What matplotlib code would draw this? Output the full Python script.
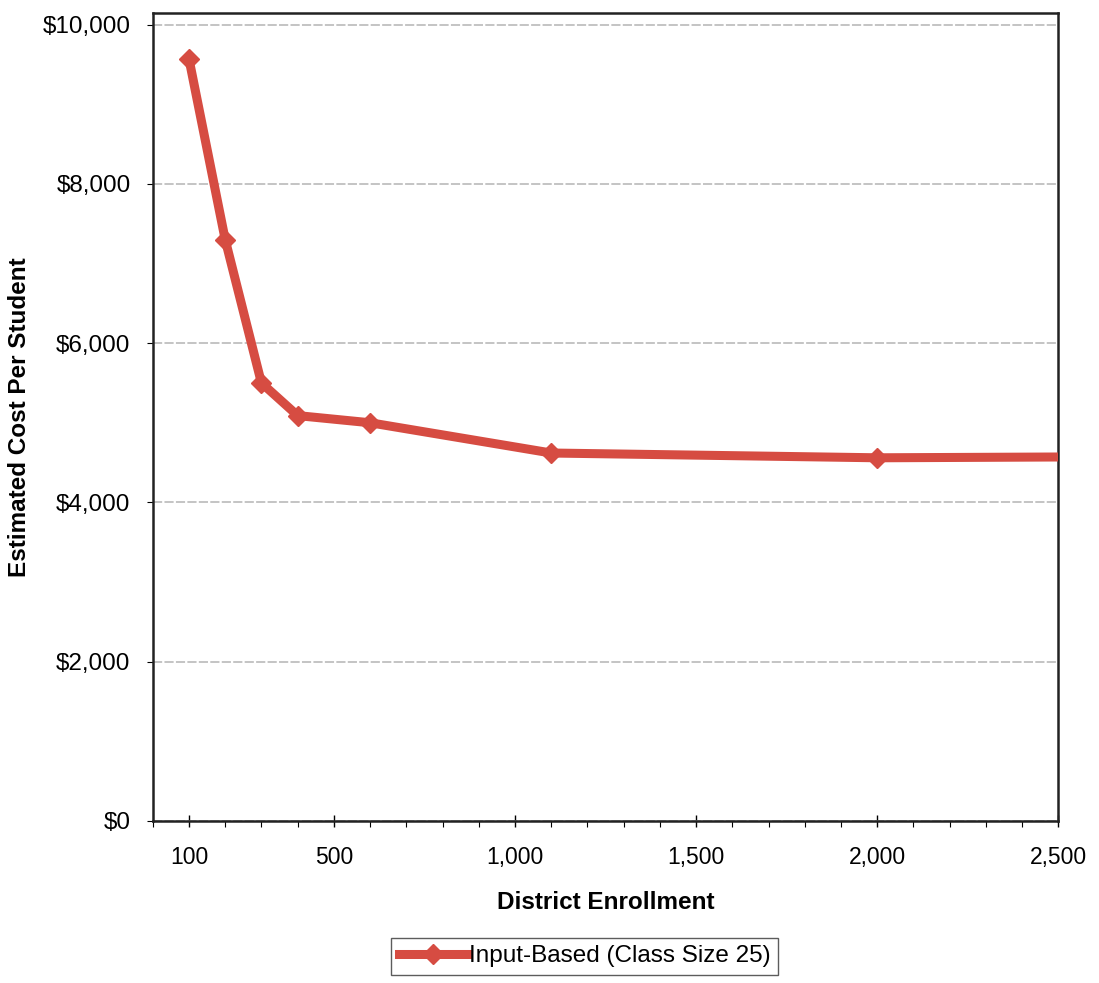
import matplotlib.pyplot as plt
from matplotlib.ticker import FuncFormatter, MultipleLocator

plt.rcParams["font.family"] = ["Liberation Sans", "DejaVu Sans"]

# district enrollment and estimated per-student cost
enrollment = [100, 200, 300, 400, 600, 1100, 2000, 2500]
cost = [9570, 7300, 5500, 5090, 5000, 4620, 4560, 4570]
series_name = "Input-Based (Class Size 25)"
x_ticks = [100, 500, 1000, 1500, 2000, 2500]
y_ticks = [0, 2000, 4000, 6000, 8000, 10000]

RED = "#d64c42"

fig = plt.figure(figsize=(10.99, 9.83), dpi=100)
ax = fig.add_axes([0.139, 0.165, 0.824, 0.822])

# last point has no marker, the line just runs to the edge
ax.plot(enrollment, cost, color=RED, lw=6.5, marker="D", markersize=10.5,
        markerfacecolor=RED, markeredgecolor=RED, markevery=list(range(len(enrollment) - 1)),
        solid_joinstyle="miter", label=series_name, zorder=3)

ax.set_xlim(0, 2500)
ax.set_ylim(0, 10150)
ax.set_xticks(x_ticks)
ax.xaxis.set_minor_locator(MultipleLocator(100))
ax.set_yticks(y_ticks)
ax.xaxis.set_major_formatter(FuncFormatter(lambda v, p: f"{int(v):,}"))
ax.yaxis.set_major_formatter(FuncFormatter(lambda v, p: f"${int(v):,}"))

ax.tick_params(axis="x", which="major", direction="inout", length=8, width=1,
               labelsize=16.5, pad=14)
ax.tick_params(axis="x", which="minor", direction="out", length=4, width=0.8)
ax.tick_params(axis="y", which="major", direction="out", length=4, width=0.8,
               labelsize=17.5, pad=12)

ax.grid(axis="y", color="#b4b4b4", lw=1.1, ls=(0, (6, 1.5)))
ax.set_axisbelow(True)
for s in ax.spines.values():
    s.set_linewidth(1.8)
    s.set_color("#222222")

ax.set_xlabel("District Enrollment", fontsize=17.5, fontweight="bold", labelpad=16)
ax.set_ylabel("Estimated Cost Per Student", fontsize=17.5, fontweight="bold", labelpad=8)

leg = fig.legend(loc="center", bbox_to_anchor=(0.532, 0.027), fontsize=17.5,
                 frameon=True, fancybox=False, edgecolor="#333333",
                 handlelength=2.8, handletextpad=0.1, borderpad=0.3)
leg.get_frame().set_linewidth(1.0)

fig.savefig("out.png", dpi=100, facecolor="white")
